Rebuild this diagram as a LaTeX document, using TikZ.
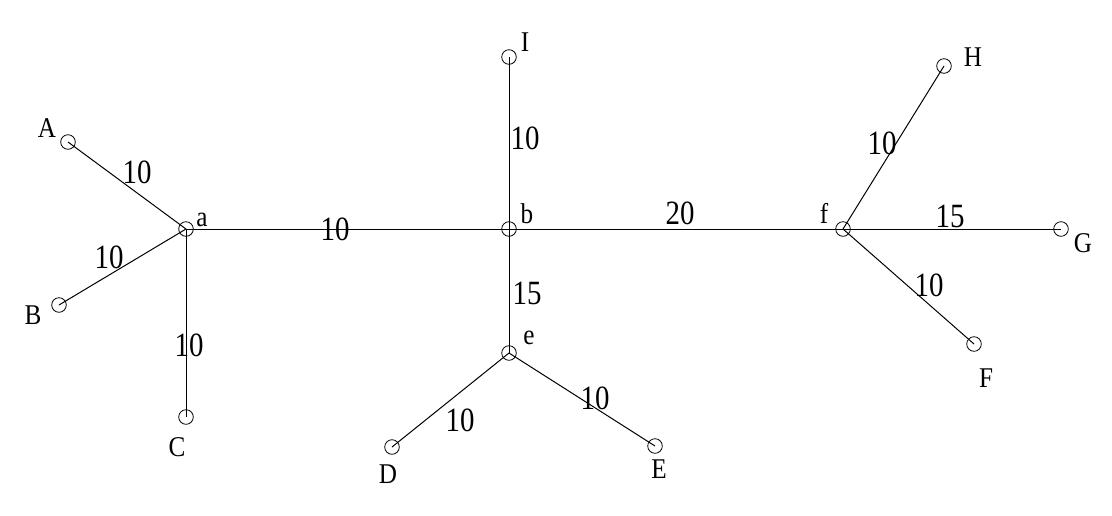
\documentclass[tikz,border=0pt]{standalone}
\usepackage{fontspec}
\setmainfont{Liberation Serif}

\begin{document}
\begin{tikzpicture}[x=0.5pt,y=-0.5pt,
    vertex/.style={circle, draw, inner sep=0pt, minimum size=7.3pt},
    tag/.style={inner sep=0pt, xscale=0.88, font=\fontsize{14.3}{15}\selectfont},
    weight/.style={inner sep=0pt, xscale=0.85, font=\fontsize{17}{18}\selectfont}]
    \useasboundingbox (0,0) rectangle (1112,515);
    % vertices
    \node[vertex] (a) at (186,229) {};
    \node[vertex] (b) at (509,229) {};
    \node[vertex] (e) at (509,353) {};
    \node[vertex] (f) at (843,229) {};
    \node[vertex] (A) at (68,142) {};
    \node[vertex] (B) at (59,305) {};
    \node[vertex] (C) at (186,417) {};
    \node[vertex] (D) at (392,447) {};
    \node[vertex] (E) at (655,446) {};
    \node[vertex] (F) at (974,344) {};
    \node[vertex] (G) at (1061,229) {};
    \node[vertex] (H) at (944,66) {};
    \node[vertex] (I) at (509,57) {};
    % vertex names
    \node[tag] (ta) at (202,220) {a};
    \node[tag] (tb) at (527,214) {b};
    \node[tag] (te) at (529,338) {e};
    \node[tag] (tf) at (824,213) {f};
    \node[tag] (tA) at (47,128) {A};
    \node[tag] (tB) at (33,315) {B};
    \node[tag] (tC) at (177,447) {C};
    \node[tag] (tD) at (388,474) {D};
    \node[tag] (tE) at (659,469) {E};
    \node[tag] (tF) at (986,378) {F};
    \node[tag] (tG) at (1083,243) {G};
    \node[tag] (tH) at (973,57) {H};
    \node[tag] (tI) at (525,42) {I};
    % edges
    \draw[line width=0.5pt] (A.center) -- (a.center);
    \draw[line width=0.5pt] (B.center) -- (a.center);
    \draw[line width=0.5pt] (C.center) -- (a.center);
    \draw[line width=0.5pt] (a.center) -- (b.center);
    \draw[line width=0.5pt] (I.center) -- (b.center);
    \draw[line width=0.5pt] (b.center) -- (e.center);
    \draw[line width=0.5pt] (b.center) -- (f.center);
    \draw[line width=0.5pt] (e.center) -- (D.center);
    \draw[line width=0.5pt] (e.center) -- (E.center);
    \draw[line width=0.5pt] (f.center) -- (H.center);
    \draw[line width=0.5pt] (f.center) -- (G.center);
    \draw[line width=0.5pt] (f.center) -- (F.center);
    % weights
    \node[weight] (wAa) at (137,172) {10};
    \node[weight] (wBa) at (109,257) {10};
    \node[weight] (wCa) at (189,345) {10};
    \node[weight] (wab) at (335,229) {10};
    \node[weight] (wIb) at (525,138) {10};
    \node[weight] (wbe) at (527,293) {15};
    \node[weight] (wbf) at (680,213) {20};
    \node[weight] (weD) at (460,420) {10};
    \node[weight] (weE) at (595,398) {10};
    \node[weight] (wfH) at (882,143) {10};
    \node[weight] (wfG) at (950,216) {15};
    \node[weight] (wfF) at (929,285) {10};
\end{tikzpicture}
\end{document}
